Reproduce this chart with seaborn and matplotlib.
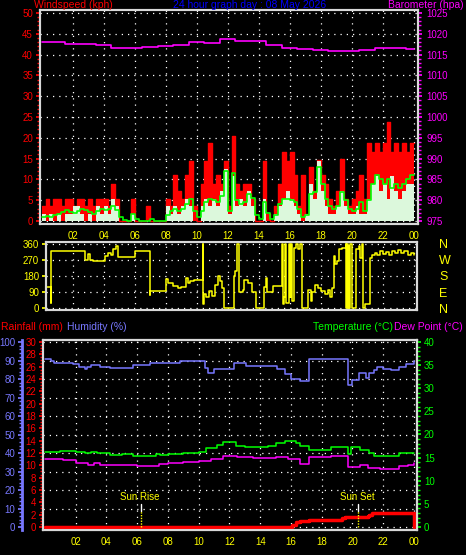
import numpy as np
import matplotlib
matplotlib.use("Agg")
import matplotlib.pyplot as plt
import matplotlib.transforms as mtransforms
from matplotlib.ticker import MultipleLocator
import seaborn as sns

# ---------------- data ----------------
hour_ticks = [2, 4, 6, 8, 10, 12, 14, 16, 18, 20, 22, 24]
hour_labels = ["02", "04", "06", "08", "10", "12", "14", "16", "18", "20", "22", "00"]

# wind, 15 minute slots
wind_hours = np.arange(0, 24, 0.25)
gust_kph = [3.6, 5.4, 3.6, 5.4,  5.4, 3.6, 5.4, 5.4,  3.6, 5.4, 5.4, 3.6,  5.4, 3.6, 5.4, 5.4,
            5.4, 3.6, 9.0, 5.4,  0, 0, 0, 5.4,  0, 0, 0, 3.6,  0, 0, 0, 0,
            5.4, 3.6, 11.0, 7.2,  5.4, 11.0, 14.5, 3.6,  0, 9.0, 14.5, 18.7,  9.0, 11.0, 9.0, 14.5,
            3.6, 20.4, 9.0, 7.2,  9.0, 9.0, 5.4, 0,  0, 14.5, 1.8, 0,  3.6, 9.0, 16.6, 14.5,
            16.6, 11.0, 3.6, 11.0,  1.8, 13.0, 7.2, 14.7,  11.0, 9.0, 5.4, 3.6,  7.2, 14.8, 5.4, 3.6,
            5.4, 7.2, 11.0, 5.4,  18.7, 16.6, 18.7, 16.6,  18.7, 23.9, 16.6, 18.7,  16.6, 18.7, 16.6, 18.7]
speed_kph = [1.8, 0, 1.8, 0,  1.8, 0, 1.8, 1.8,  3.6, 3.6, 1.8, 0,  1.8, 0, 3.6, 1.8,
             3.6, 1.8, 5.4, 3.6,  0, 0, 0, 1.8,  0, 0, 0, 0,  0, 0, 0, 0,
             3.6, 1.8, 3.6, 1.8,  3.6, 5.4, 3.6, 0,  0, 3.6, 5.4, 3.6,  5.4, 3.6, 7.2, 12.6,
             1.8, 10.8, 3.6, 5.4,  3.6, 7.2, 3.6, 0,  0, 5.4, 0, 0,  1.8, 3.6, 5.4, 7.2,
             5.4, 3.6, 1.8, 0,  1.8, 9.0, 5.4, 14.5,  7.2, 3.6, 1.8, 1.8,  3.6, 7.2, 3.6, 1.8,
             1.8, 3.6, 1.8, 1.8,  5.4, 9.0, 10.8, 7.2,  9.0, 5.4, 10.8, 7.2,  5.4, 7.2, 9.0, 9.0]
avg_kph = [0.9, 1.2, 1.0, 1.5,  1.8, 2.2, 2.7, 2.2,  2.0, 2.5, 3.0, 2.7,  2.2, 1.8, 2.5, 3.0,
           2.7, 3.0, 3.6, 2.7,  1.0, 0.3, 0, 1.8,  0.5, 0, 0, 0,  0.5, 0, 0, 0,
           1.5, 2.5, 3.0, 2.5,  3.0, 4.0, 5.4, 2.5,  1.0, 2.5, 4.5, 5.4,  5.0, 4.5, 6.0, 12.0,
           2.5, 11.5, 5.0, 4.0,  4.5, 6.5, 5.5, 1.5,  0.5, 4.5, 2.0, 0.5,  1.5, 4.0, 5.4, 5.4,
           5.0, 4.5, 3.0, 1.0,  1.5, 6.5, 7.0, 13.0,  9.0, 5.4, 3.6, 3.0,  3.6, 7.0, 5.0, 3.0,
           2.5, 3.0, 4.5, 2.5,  5.0, 9.0, 11.0, 10.0,  9.0, 10.0, 8.0, 9.0,  8.0, 9.0, 10.0, 11.0]

baro_hours = list(range(25))
baro_hpa = [1018.0, 1018.0, 1017.6, 1017.5, 1017.2, 1016.7, 1016.6, 1016.8, 1017.0, 1017.4,
            1018.0, 1017.8, 1018.8, 1018.3, 1018.2, 1017.2, 1016.5, 1016.4, 1016.2, 1015.8,
            1015.9, 1016.2, 1016.5, 1016.5, 1016.4]

dir_hours = [0.28, 0.60, 0.63, 2.8, 3.0, 3.1, 3.3, 4.1, 4.3, 4.5, 4.6, 4.8, 4.95, 6.0, 7.0, 7.02,
             8.0, 8.15, 8.5, 8.8, 9.0, 9.3, 9.45, 9.6, 9.8, 10.4, 10.43, 10.5, 10.6, 10.8, 11.0,
             11.2, 11.35, 11.5, 11.6, 11.75, 12.4, 12.5, 12.6, 12.7, 12.75, 13.0, 13.05, 13.3,
             13.55, 13.8, 14.35, 14.45, 14.55, 14.9, 15.5, 15.55, 15.6, 15.7, 15.75, 15.95, 16.0,
             16.1, 16.15, 16.25, 16.4, 16.55, 16.65, 16.8, 17.2, 17.35, 17.45, 17.6, 17.8, 18.0,
             18.3, 18.5, 18.6, 18.7, 18.85, 18.95, 19.05, 19.2, 19.4, 19.6, 19.65, 19.7, 19.75,
             19.8, 19.85, 19.9, 20.0, 20.3, 20.45, 20.55, 20.65, 20.75, 20.85, 21.15, 21.3, 21.5,
             21.6, 21.8, 22.0, 22.2, 22.4, 22.6, 22.8, 23.0, 23.2, 23.4, 23.6, 23.8, 24.0]
dir_deg = [117, 28, 322, 270, 305, 270, 263, 290, 310, 300, 330, 350, 285, 322, 75, 96,
           165, 140, 125, 110, 118, 170, 140, 150, 158, 360, 20, 80, 60, 95, 70,
           130, 180, 150, 110, 0, 180, 210, 360, 340, 90, 100, 160, 140,
           90, 0, 120, 170, 90, 125, 360, 20, 60, 360, 30, 360, 60,
           360, 40, 340, 360, 330, 360, 0, 100, 40, 90, 130, 110, 95,
           80, 100, 60, 110, 290, 250, 265, 330, 340, 360, 0, 360, 0,
           350, 0, 360, 0, 330, 350, 280, 360, 0, 20, 280, 300, 310,
           300, 320, 305, 315, 300, 320, 310, 325, 310, 320, 300, 310, 300]

hum_hours = [0, 0.4, 0.6, 1.8, 2.2, 2.6, 2.7, 3.0, 3.6, 4.2, 5.7, 6.8, 8.8, 10.4, 10.6, 11.0,
             12.3, 13.1, 15.1, 15.6, 16.0, 16.6, 17.2, 19.7, 20.0, 20.4, 20.9, 21.1, 21.4, 21.6,
             22.0, 22.5, 23.0, 23.5, 24.0]
hum_pct = [90.6, 89.5, 88.8, 88.0, 86.7, 85.5, 86.7, 87.6, 86.5, 85.8, 87.5, 88.8, 90.0, 86.0,
           83.0, 85.5, 88.8, 87.0, 85.4, 82.5, 80.0, 79.0, 90.6, 76.8, 79.5, 83.0, 80.5, 83.5,
           85.0, 86.7, 85.3, 84.8, 86.5, 88.0, 89.5]

temp_hours = [0, 1.0, 2.0, 2.6, 3.0, 3.4, 4.2, 5.0, 5.7, 7.2, 7.5, 8.0, 9.0, 10.0, 10.5, 11.2,
              11.6, 12.4, 13.0, 14.5, 15.0, 15.6, 16.3, 16.6, 17.2, 18.6, 19.7, 19.9, 20.5, 21.1,
              21.4, 22.0, 23.0, 24.0]
temp_c = [16.2, 16.5, 16.2, 16.0, 16.3, 16.0, 15.65, 15.8, 15.4, 15.8, 15.6, 15.8, 16.0, 16.3,
          17.0, 17.8, 18.3, 17.6, 17.4, 17.6, 18.2, 18.7, 18.2, 17.6, 16.7, 17.2, 15.8, 17.2,
          16.6, 15.9, 15.3, 15.4, 16.0, 16.0]

dew_hours = [0, 1.2, 2.0, 2.8, 3.2, 3.6, 4.2, 5.5, 6.0, 7.4, 8.0, 9.0, 10.0, 10.8, 11.6, 12.5,
             13.5, 15.0, 15.8, 16.6, 17.2, 18.6, 19.7, 20.5, 21.0, 21.8, 23.0, 23.6, 24.0]
dew_c = [14.7, 14.4, 13.8, 13.5, 13.9, 13.5, 13.3, 13.4, 13.2, 13.7, 13.8, 14.0, 14.2, 14.8,
         15.3, 15.1, 15.0, 15.2, 14.6, 13.6, 15.1, 15.3, 13.0, 13.3, 12.8, 12.6, 13.2, 13.5, 13.8]

rain_hours = [0, 15.9, 16.1, 16.3, 16.6, 17.2, 19.3, 19.5, 21.0, 21.1, 21.3, 23.97, 24.0]
rain_mm = [0, 0, 0.4, 0.8, 1.0, 1.13, 1.4, 1.67, 1.8, 2.0, 2.3, 2.3, 0]

sun_rise, sun_set = 6.22, 20.38

# ---------------- styling ----------------
sns.set_theme(style="dark", rc={"figure.facecolor": "black", "axes.facecolor": "black",
                                "savefig.facecolor": "black"})
plt.rcParams['font.family'] = ['Liberation Sans', 'DejaVu Sans']

RED, MAG, YEL, GRN, BLUE = "#ff0000", "#ff00ff", "#ffff00", "#00ff00", "#7878ff"
FRAME = "#d8d8d8"
DOTS = (0, (1, 4))

fig = plt.figure(figsize=(4.66, 5.55), dpi=100)


def frame(ax):
    for s in ax.spines.values():
        s.set_color(FRAME)
        s.set_linewidth(1.5)
    ax.set_facecolor("black")


def hours_axis(ax, labels=True):
    ax.set_xticks(hour_ticks)
    ax.set_xticklabels(hour_labels if labels else [])
    ax.xaxis.set_minor_locator(MultipleLocator(0.5))
    ax.tick_params(axis="x", which="both", colors=FRAME, labelcolor=YEL, labelsize=7,
                   direction="out", length=3, pad=2)
    ax.tick_params(axis="x", which="minor", length=2)
    if not labels:
        ax.tick_params(axis="x", which="both", length=0)


# ---- top: wind + barometer ----
ax = fig.add_axes([40 / 466, 1 - 224 / 555, 378 / 466, 214 / 555])
frame(ax)
ax.set_xlim(-0.11, 24.28)
ax.set_ylim(-0.72, 50.72)
t_ext = np.append(wind_hours, 24)
ax.fill_between(t_ext, np.append(gust_kph, gust_kph[-1]), step="post", color=RED, lw=0, zorder=2)
ax.plot(t_ext, np.append(gust_kph, gust_kph[-1]), drawstyle="steps-post", color=RED, lw=1, zorder=2)
ax.fill_between(t_ext, np.append(speed_kph, speed_kph[-1]), step="post", color="#dcf8dc", lw=0, zorder=3)
sns.lineplot(x=t_ext, y=np.append(avg_kph, avg_kph[-1]), ax=ax, color=GRN, lw=1.2,
             drawstyle="steps-post", estimator=None, sort=False, legend=False, zorder=4)
ax.set_yticks(range(0, 51, 5))
ax.yaxis.set_minor_locator(MultipleLocator(1))
ax.tick_params(axis="y", which="both", colors=RED, labelsize=7, direction="out", length=3, pad=2)
ax.tick_params(axis="y", which="minor", length=2)
hours_axis(ax)
ax.grid(True, which="major", color="white", ls=DOTS, lw=0.9)
ax.set_axisbelow(True)
ax.set_xlabel("")
ax.set_ylabel("")

axp = ax.twinx()
frame(axp)
axp.patch.set_visible(False)
axp.set_ylim(974.28, 1025.72)
sns.lineplot(x=baro_hours, y=baro_hpa, ax=axp, color=MAG, lw=1.2, drawstyle="steps-mid",
             estimator=None, sort=False, legend=False)
axp.set_yticks(range(975, 1026, 5))
axp.yaxis.set_minor_locator(MultipleLocator(1))
axp.tick_params(axis="y", which="both", colors=MAG, labelsize=7, direction="out", length=3, pad=3)
axp.tick_params(axis="y", which="minor", length=2)
axp.set_ylabel("")

# ---- middle: wind direction ----
axd = fig.add_axes([46 / 466, 1 - 310 / 555, 371 / 466, 68 / 555])
frame(axd)
axd.set_xlim(0.28, 24.21)
axd.set_ylim(-11, 371)
sns.lineplot(x=dir_hours, y=dir_deg, ax=axd, color=YEL, lw=1.1, drawstyle="steps-post",
             estimator=None, sort=False, legend=False)
axd.set_yticks([0, 90, 180, 270, 360])
axd.tick_params(axis="y", colors=YEL, labelsize=7, direction="out", length=3, pad=2)
hours_axis(axd, labels=False)
axd.grid(True, color="white", ls=DOTS, lw=0.9)
axd.set_axisbelow(True)
axd.set_ylabel("")
axd2 = axd.twinx()
frame(axd2)
axd2.patch.set_visible(False)
axd2.set_ylim(-11, 371)
axd2.set_yticks([0, 90, 180, 270, 360])
axd2.set_yticklabels(["N", "E", "S", "W", "N"])
axd2.tick_params(axis="y", colors=YEL, labelsize=9, length=0, pad=16)

# ---- bottom: humidity / rain / temperature / dew point ----
axh = fig.add_axes([43 / 466, 1 - 530 / 555, 374 / 466, 190 / 555])
frame(axh)
axh.set_xlim(-0.13, 24.2)
axh.set_ylim(-1.6, 101.1)
axh.spines["left"].set_position(("outward", 15))
axh.spines["left"].set_color(BLUE)
axh.spines["left"].set_linewidth(2)
sns.lineplot(x=hum_hours, y=hum_pct, ax=axh, color=BLUE, lw=1.1, drawstyle="steps-post",
             estimator=None, sort=False, legend=False)
axh.set_yticks(range(0, 101, 10))
axh.yaxis.set_minor_locator(MultipleLocator(2))
axh.tick_params(axis="y", which="both", colors=BLUE, labelsize=7, direction="out", length=3, pad=2)
axh.tick_params(axis="y", which="minor", length=2)
hours_axis(axh)
axh.grid(True, which="major", color="white", ls=DOTS, lw=0.9)
axh.set_axisbelow(True)
axh.set_ylabel("")

axt = axh.twinx()
frame(axt)
axt.patch.set_visible(False)
axt.set_ylim(-0.65, 40.43)
sns.lineplot(x=temp_hours, y=temp_c, ax=axt, color=GRN, lw=1.1, drawstyle="steps-post",
             estimator=None, sort=False, legend=False)
sns.lineplot(x=dew_hours, y=dew_c, ax=axt, color=MAG, lw=1.1, drawstyle="steps-post",
             estimator=None, sort=False, legend=False)
axt.set_yticks(range(0, 41, 5))
axt.yaxis.set_minor_locator(MultipleLocator(1))
axt.tick_params(axis="y", which="both", colors=GRN, labelsize=7, direction="out", length=3, pad=2)
axt.tick_params(axis="y", which="minor", length=2)
axt.set_ylabel("")

axr = axh.twinx()
frame(axr)
axr.patch.set_visible(False)
axr.set_ylim(-0.49, 30.3)
axr.yaxis.tick_left()
sns.lineplot(x=rain_hours, y=rain_mm, ax=axr, color=RED, lw=2.5, drawstyle="steps-post",
             estimator=None, sort=False, legend=False)
axr.set_yticks(range(0, 31, 2))
axr.yaxis.set_minor_locator(MultipleLocator(0.5))
axr.tick_params(axis="y", which="both", colors=RED, labelsize=7, direction="out", length=3, pad=2)
axr.tick_params(axis="y", which="minor", length=2)
axr.set_ylabel("")

# sun rise / sun set markers
trans = mtransforms.blended_transform_factory(axr.transData, axr.transAxes)
for hr, name in [(sun_rise, "Sun Rise"), (sun_set, "Sun Set")]:
    axr.plot([hr, hr], [0.1, 0.137], transform=trans, color="white", lw=1)
    axr.plot([hr, hr], [0.016, 0.1], transform=trans, color=YEL, lw=1, ls=(0, (1, 1)))
    axr.text(hr - 0.05, 0.175, name, transform=trans, color=YEL, fontsize=7,
             ha="center", va="center")

# ---- header texts ----
HEAD = 7.5
fig.text(34 / 466, 1 - 5 / 555, "Windspeed (kph)", color=RED, fontsize=HEAD, va="center")
fig.text(250 / 466, 1 - 5 / 555, "24 hour graph day : 08 May 2026", color="#0000ff",
         fontsize=HEAD, ha="center", va="center")
fig.text(464 / 466, 1 - 5 / 555, "Barometer (hpa)", color=MAG, fontsize=HEAD, ha="right", va="center")
fig.text(1 / 466, 1 - 327 / 555, "Rainfall (mm)", color=RED, fontsize=HEAD, va="center")
fig.text(67 / 466, 1 - 327 / 555, "Humidity (%)", color=BLUE, fontsize=HEAD, va="center")
fig.text(313 / 466, 1 - 327 / 555, "Temperature (°C)", color=GRN, fontsize=HEAD, va="center")
fig.text(463 / 466, 1 - 327 / 555, "Dew Point (°C)", color=MAG, fontsize=HEAD, ha="right", va="center")

fig.savefig("out.png", dpi=100, facecolor="black")
